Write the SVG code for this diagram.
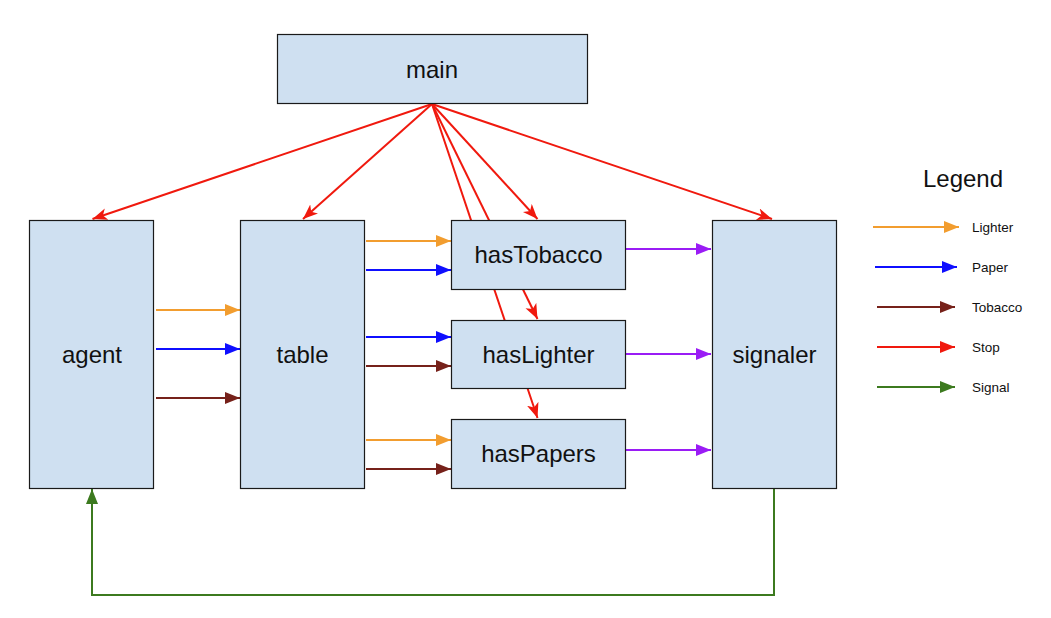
<svg xmlns="http://www.w3.org/2000/svg" width="1051" height="618" viewBox="0 0 1051 618">
<style>
.box{fill:#cfe0f1;stroke:#1a1a1a;stroke-width:1.2}
.lbl{font-family:"Liberation Sans",Arial,sans-serif;font-size:24px;fill:#111;text-anchor:middle}
.leg{font-family:"Liberation Sans",Arial,sans-serif;font-size:13.5px;fill:#111}
.c{fill:none;stroke-width:2}
.or{stroke:#f29d2f}.bl{stroke:#0f0fff}.br{stroke:#76211a}.rd{stroke:#f0190e}.gr{stroke:#3c7a1f}.pu{stroke:#9a1cf5}
</style>
<defs>
<marker id="mOr" markerUnits="userSpaceOnUse" markerWidth="16" markerHeight="14" refX="15" refY="6" orient="auto"><path d="M0,0L15,6L0,12z" fill="#f29d2f"/></marker>
<marker id="mBl" markerUnits="userSpaceOnUse" markerWidth="16" markerHeight="14" refX="15" refY="6" orient="auto"><path d="M0,0L15,6L0,12z" fill="#0f0fff"/></marker>
<marker id="mBr" markerUnits="userSpaceOnUse" markerWidth="16" markerHeight="14" refX="15" refY="6" orient="auto"><path d="M0,0L15,6L0,12z" fill="#76211a"/></marker>
<marker id="mPu" markerUnits="userSpaceOnUse" markerWidth="16" markerHeight="14" refX="15" refY="6" orient="auto"><path d="M0,0L15,6L0,12z" fill="#9a1cf5"/></marker>
<marker id="mGr" markerUnits="userSpaceOnUse" markerWidth="16" markerHeight="14" refX="15" refY="6" orient="auto"><path d="M0,0L15,6L0,12z" fill="#3c7a1f"/></marker>
<marker id="mRd" markerUnits="userSpaceOnUse" markerWidth="16" markerHeight="14" refX="15" refY="6" orient="auto"><path d="M0,0L15,6L0,12z" fill="#f0190e"/></marker>
<marker id="mRn" markerUnits="userSpaceOnUse" markerWidth="16" markerHeight="14" refX="15" refY="6" orient="auto"><path d="M0,0L15,6L0,12L4,6z" fill="#f0190e"/></marker>
</defs>
<g id="connectors">
<line class="c rd" x1="432" y1="104" x2="92.5" y2="219" marker-end="url(#mRn)"/>
<line class="c rd" x1="432" y1="104" x2="303" y2="219" marker-end="url(#mRn)"/>
<line class="c rd" x1="432" y1="104" x2="537.5" y2="219" marker-end="url(#mRn)"/>
<line class="c rd" x1="432" y1="104" x2="772" y2="219" marker-end="url(#mRn)"/>
<line class="c rd" x1="432" y1="104" x2="537.5" y2="319" marker-end="url(#mRn)"/>
<line class="c rd" x1="432" y1="104" x2="537.5" y2="418" marker-end="url(#mRn)"/>
<line class="c or" x1="156" y1="310" x2="240" y2="310" marker-end="url(#mOr)"/>
<line class="c bl" x1="156" y1="349" x2="240" y2="349" marker-end="url(#mBl)"/>
<line class="c br" x1="156" y1="398" x2="240" y2="398" marker-end="url(#mBr)"/>
<line class="c or" x1="366" y1="241" x2="451" y2="241" marker-end="url(#mOr)"/>
<line class="c bl" x1="366" y1="270" x2="451" y2="270" marker-end="url(#mBl)"/>
<line class="c bl" x1="366" y1="337" x2="451" y2="337" marker-end="url(#mBl)"/>
<line class="c br" x1="366" y1="366" x2="451" y2="366" marker-end="url(#mBr)"/>
<line class="c or" x1="366" y1="440" x2="451" y2="440" marker-end="url(#mOr)"/>
<line class="c br" x1="366" y1="469" x2="451" y2="469" marker-end="url(#mBr)"/>
<line class="c pu" x1="626" y1="249" x2="711" y2="249" marker-end="url(#mPu)"/>
<line class="c pu" x1="626" y1="354" x2="711" y2="354" marker-end="url(#mPu)"/>
<line class="c pu" x1="626" y1="450" x2="711" y2="450" marker-end="url(#mPu)"/>
<polyline class="c gr" points="774,488 774,595 92,595 92,489" marker-end="url(#mGr)"/>
</g>
<g id="main"><rect class="box" x="277.5" y="34.5" width="310" height="69"/><text class="lbl" x="432" y="78">main</text></g>
<g id="agent"><rect class="box" x="29.5" y="220.5" width="124" height="268"/><text class="lbl" x="92" y="363">agent</text></g>
<g id="table"><rect class="box" x="240.5" y="220.5" width="124" height="268"/><text class="lbl" x="302.5" y="363">table</text></g>
<g id="hasTobacco"><rect class="box" x="451.5" y="220.5" width="174" height="69"/><text class="lbl" x="538.5" y="263">hasTobacco</text></g>
<g id="hasLighter"><rect class="box" x="451.5" y="320.5" width="174" height="68"/><text class="lbl" x="538.5" y="363">hasLighter</text></g>
<g id="hasPapers"><rect class="box" x="451.5" y="419.5" width="174" height="69"/><text class="lbl" x="538.5" y="462">hasPapers</text></g>
<g id="signaler"><rect class="box" x="712.5" y="220.5" width="124" height="268"/><text class="lbl" x="774.5" y="363">signaler</text></g>
<g id="legend">
<text class="lbl" x="963" y="187">Legend</text>
<line class="c or" x1="873" y1="227" x2="959" y2="227" marker-end="url(#mOr)"/>
<line class="c bl" x1="875" y1="267" x2="957" y2="267" marker-end="url(#mBl)"/>
<line class="c br" x1="877" y1="307" x2="955" y2="307" marker-end="url(#mBr)"/>
<line class="c rd" x1="877" y1="347" x2="955" y2="347" marker-end="url(#mRd)"/>
<line class="c gr" x1="877" y1="387" x2="955" y2="387" marker-end="url(#mGr)"/>
<text class="leg" x="972" y="231.5">Lighter</text>
<text class="leg" x="972" y="271.5">Paper</text>
<text class="leg" x="972" y="311.5">Tobacco</text>
<text class="leg" x="972" y="351.5">Stop</text>
<text class="leg" x="972" y="391.5">Signal</text>
</g>
</svg>
